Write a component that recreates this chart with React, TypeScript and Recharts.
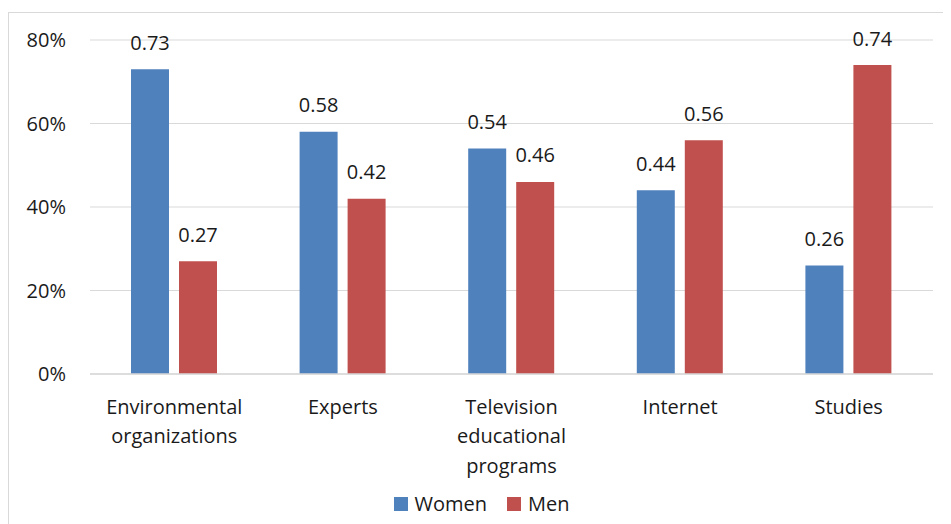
import React from 'react';
import { BarChart, Bar, XAxis, YAxis, CartesianGrid, Legend, LabelList } from 'recharts';

// ---- data ----
const categories = [
  'Environmental\norganizations',
  'Experts',
  'Television\neducational\nprograms',
  'Internet',
  'Studies',
];
const women = [0.73, 0.58, 0.54, 0.44, 0.26];
const men = [0.27, 0.42, 0.46, 0.56, 0.74];
const yTicks = [0, 0.2, 0.4, 0.6, 0.8];
const seriesOrder = ['Women', 'Men'];

const BLUE = '#4F81BD';
const RED = '#C0504D';
const TEXT = '#1a1a1a';
const GRID = '#d9d9d9';
const FONT = '"Open Sans", sans-serif';

const data = categories.map((name, i) => ({ name, women: women[i], men: men[i] }));

// multi-line category label under each group
function CategoryTick({ x, y, payload }: any) {
  const lines = String(payload.value).split('\n');
  return (
    <g transform={`translate(${x},${y})`}>
      {lines.map((line, i) => (
        <text
          key={i}
          x={0}
          y={32 + i * 29.5}
          textAnchor="middle"
          dominantBaseline="central"
          fontSize={20}
          fontFamily={FONT}
          fill={TEXT}
        >
          {line}
        </text>
      ))}
    </g>
  );
}

function ValueLabel({ x, y, width, value }: any) {
  return (
    <text
      x={x + width / 2}
      y={y - 27}
      textAnchor="middle"
      dominantBaseline="central"
      fontSize={20}
      fontFamily={FONT}
      fill={TEXT}
    >
      {Number(value).toFixed(2)}
    </text>
  );
}

function LegendContent({ payload }: any) {
  const items = [...(payload || [])].sort(
    (a: any, b: any) => seriesOrder.indexOf(a.value) - seriesOrder.indexOf(b.value)
  );
  return (
    <div
      style={{
        display: 'flex',
        justifyContent: 'center',
        alignItems: 'center',
        height: 24,
        paddingLeft: 22,
      }}
    >
      {items.map((p: any, i: number) => (
        <div
          key={p.value}
          style={{ display: 'flex', alignItems: 'center', marginRight: i < items.length - 1 ? 20 : 0 }}
        >
          <span style={{ width: 14, height: 14, background: p.color, marginRight: 7 }} />
          <span style={{ fontSize: 20, fontFamily: FONT, color: TEXT, lineHeight: '24px' }}>
            {p.value}
          </span>
        </div>
      ))}
    </div>
  );
}

export default function App() {
  return (
    <div style={{ position: 'relative', width: 943, height: 516, overflow: 'hidden', background: '#fff' }}>
      <div
        style={{
          position: 'absolute',
          left: 0,
          top: 4,
          width: 1000,
          height: 600,
          border: `1px solid ${GRID}`,
          boxSizing: 'border-box',
        }}
      />
      <BarChart
        width={943}
        height={516}
        data={data}
        margin={{ top: 32, right: 18, left: 0, bottom: 8 }}
        barGap={10}
        barSize={38}
      >
        <CartesianGrid vertical={false} stroke={GRID} strokeWidth={1} />
        <XAxis
          dataKey="name"
          axisLine={{ stroke: GRID, strokeWidth: 1.5 }}
          tickLine={false}
          tickSize={0}
          tickMargin={0}
          height={118}
          interval={0}
          tick={<CategoryTick />}
        />
        <YAxis
          domain={[0, 0.8]}
          ticks={yTicks}
          width={82}
          axisLine={false}
          tickLine={false}
          tickSize={0}
          tickMargin={24}
          tickFormatter={(v) => `${Math.round(v * 100)}%`}
          tick={{ fontSize: 20, fontFamily: FONT, fill: TEXT }}
        />
        <Legend verticalAlign="bottom" height={24} content={<LegendContent />} />
        <Bar dataKey="women" name="Women" fill={BLUE} isAnimationActive={false}>
          <LabelList dataKey="women" content={<ValueLabel />} />
        </Bar>
        <Bar dataKey="men" name="Men" fill={RED} isAnimationActive={false}>
          <LabelList dataKey="men" content={<ValueLabel />} />
        </Bar>
      </BarChart>
    </div>
  );
}
